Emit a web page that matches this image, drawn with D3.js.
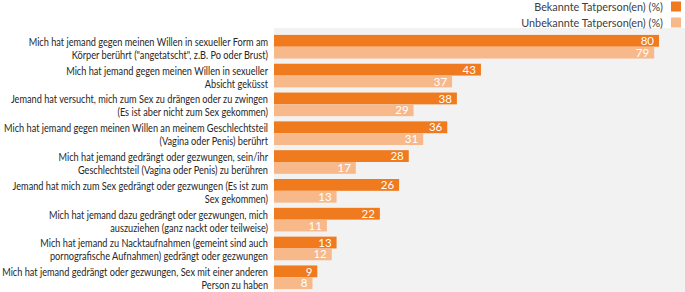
<!DOCTYPE html>
<html>
<head>
<meta charset="utf-8">
<script src="https://cdn.jsdelivr.net/npm/d3@7"></script>
<style>
  html, body { margin: 0; padding: 0; background: #fff; }
  svg { display: block; }
  text { font-family: Lato, "Open Sans", sans-serif; }
</style>
</head>
<body>
<svg id="chart" width="685" height="292"></svg>
<script>
const categories = [
  ["Mich hat jemand gegen meinen Willen in sexueller Form am", "Körper berührt (\"angetatscht\", z.B. Po oder Brust)"],
  ["Mich hat jemand gegen meinen Willen in sexueller", "Absicht geküsst"],
  ["Jemand hat versucht, mich zum Sex zu drängen oder zu zwingen", "(Es ist aber nicht zum Sex gekommen)"],
  ["Mich hat jemand gegen meinen Willen an meinem Geschlechtsteil", "(Vagina oder Penis) berührt"],
  ["Mich hat jemand gedrängt oder gezwungen, sein/ihr", "Geschlechtsteil (Vagina oder Penis) zu berühren"],
  ["Jemand hat mich zum Sex gedrängt oder gezwungen (Es ist zum", "Sex gekommen)"],
  ["Mich hat jemand dazu gedrängt oder gezwungen, mich", "auszuziehen (ganz nackt oder teilweise)"],
  ["Mich hat jemand zu Nacktaufnahmen (gemeint sind auch", "pornografische Aufnahmen) gedrängt oder gezwungen"],
  ["Mich hat jemand gedrängt oder gezwungen, Sex mit einer anderen", "Person zu haben"]
];
const bekannte = [80, 43, 38, 36, 28, 26, 22, 13, 9];
const unbekannte = [79, 37, 29, 31, 17, 13, 11, 12, 8];
const seriesNames = ["Bekannte Tatperson(en) (%)", "Unbekannte Tatperson(en) (%)"];
const seriesColors = ["#F07A1E", "#F7B98A"];

const svg = d3.select("#chart");
const W = 685, H = 292;
const plot = { left: 274, right: 685, top: 28, bottom: 296 };

svg.append("rect")
  .attr("x", plot.left).attr("y", plot.top)
  .attr("width", plot.right - plot.left).attr("height", H - plot.top)
  .attr("fill", "#F2F2F2");

const x = d3.scaleLinear().domain([0, 85.4]).range([plot.left, plot.right]);
const y = d3.scaleBand().domain(d3.range(categories.length))
  .range([plot.top, plot.bottom]).paddingInner(0.18).paddingOuter(0.24);
const ySub = d3.scaleBand().domain([0, 1]).range([0, y.bandwidth()]);

const data = categories.map((c, i) => ({ i, lines: c, vals: [bekannte[i], unbekannte[i]] }));

const g = svg.append("g").selectAll("g").data(data).join("g")
  .attr("transform", d => `translate(0,${y(d.i)})`);

g.selectAll("rect.bar").data(d => d.vals.map((v, s) => ({ v, s }))).join("rect")
  .attr("class", "bar")
  .attr("x", x(0))
  .attr("y", d => ySub(d.s))
  .attr("width", d => x(d.v) - x(0))
  .attr("height", ySub.bandwidth())
  .attr("fill", d => seriesColors[d.s]);

g.selectAll("text.val").data(d => d.vals.map((v, s) => ({ v, s }))).join("text")
  .attr("class", "val")
  .attr("x", d => x(d.v) - 5)
  .attr("y", d => ySub(d.s) + ySub.bandwidth() / 2)
  .attr("dy", "0.36em")
  .attr("text-anchor", "end")
  .attr("fill", "#fff")
  .attr("font-size", 11.5)
  .text(d => d.v);

const catText = g.append("text")
  .attr("class", "cat")
  .attr("text-anchor", "end")
  .attr("fill", "#262626")
  .attr("font-size", 11);
catText.selectAll("tspan").data(d => d.lines).join("tspan")
  .attr("x", 0)
  .attr("y", (d, k) => y.bandwidth() / 2 - 1 + k * 13)
  .text(d => d);

// condense horizontally (reference uses a narrow font) so the widest line spans the label area
let maxW = 0;
catText.selectAll("tspan").each(function () { maxW = Math.max(maxW, this.getComputedTextLength()); });
const sx = 266 / maxW;
catText.attr("transform", `translate(268,0) scale(${sx},1)`);

const leg = svg.append("g");
const legTexts = [];
seriesNames.forEach((name, s) => {
  const cy = 6.5 + s * 16;
  leg.append("rect").attr("x", 671).attr("y", cy - 5).attr("width", 10).attr("height", 10)
    .attr("fill", seriesColors[s]);
  legTexts.push(leg.append("text").attr("dy", "0.36em").attr("data-cy", cy)
    .attr("text-anchor", "end").attr("fill", "#404040").attr("font-size", 12).text(name));
});
const legW = d3.max(legTexts, t => t.node().getComputedTextLength());
const lsx = 142 / legW;
legTexts.forEach(t => t.attr("transform", `translate(663,${t.attr("data-cy")}) scale(${lsx},1)`));
</script>
</body>
</html>
